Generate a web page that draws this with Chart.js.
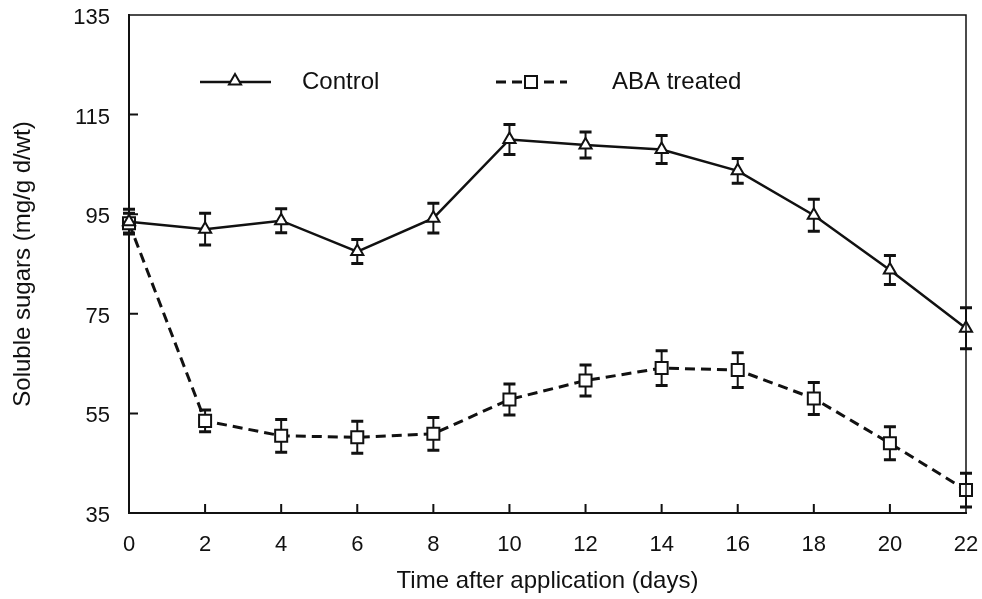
<!DOCTYPE html>
<html>
<head>
<meta charset="utf-8">
<script src="https://cdn.jsdelivr.net/npm/chart.js@4/dist/chart.umd.min.js"></script>
<style>
  html, body { margin: 0; padding: 0; background: #fff; }
  #wrap { width: 982px; height: 599px; }
</style>
</head>
<body>
<div id="wrap"><canvas id="sugarChart" width="982" height="599"></canvas></div>
<script>
// days after ABA application
const days = [0, 2, 4, 6, 8, 10, 12, 14, 16, 18, 20, 22];
const control = [93.5, 92, 93.7, 87.5, 94.2, 110, 108.9, 108, 103.7, 94.8, 83.8, 72.1];
const controlErr = [2.5, 3.2, 2.4, 2.4, 3, 3, 2.6, 2.8, 2.5, 3.2, 2.9, 4.1];
const aba = [93.2, 53.5, 50.5, 50.2, 50.9, 57.8, 61.6, 64.1, 63.7, 58, 49, 39.6];
const abaErr = [2, 2.2, 3.3, 3.2, 3.3, 3.1, 3.1, 3.5, 3.5, 3.2, 3.3, 3.4];
const yTicks = [35, 55, 75, 95, 115, 135];
const xTicks = [0, 2, 4, 6, 8, 10, 12, 14, 16, 18, 20, 22];

const FONT = 'Liberation Sans, Arial, Helvetica, sans-serif';
const INK = '#111';

function toPoints(ys, errs) {
    return days.map(function(d, i) { return { x: d, y: ys[i], err: errs[i] }; });
}

// error bars, drawn under the markers
const errorBars = {
    id: 'errorBars',
    beforeDatasetsDraw: function(chart) {
        const ctx = chart.ctx;
        const xs = chart.scales.x, ys = chart.scales.y;
        ctx.save();
        ctx.strokeStyle = INK;
        chart.data.datasets.forEach(function(ds) {
            ds.data.forEach(function(p) {
                const px = xs.getPixelForValue(p.x);
                const top = ys.getPixelForValue(p.y + p.err);
                const bot = ys.getPixelForValue(p.y - p.err);
                ctx.lineWidth = 2;
                ctx.beginPath();
                ctx.moveTo(px, top); ctx.lineTo(px, bot);
                ctx.stroke();
                ctx.lineWidth = 3;
                ctx.beginPath();
                ctx.moveTo(px - 6, top); ctx.lineTo(px + 6, top);
                ctx.moveTo(px - 6, bot); ctx.lineTo(px + 6, bot);
                ctx.stroke();
            });
        });
        ctx.restore();
    }
};

// box frame, inward ticks and the legend inside the plot
const frame = {
    id: 'frame',
    afterDraw: function(chart) {
        const ctx = chart.ctx;
        const a = chart.chartArea;
        const xs = chart.scales.x, ys = chart.scales.y;
        ctx.save();
        ctx.strokeStyle = INK;
        ctx.lineWidth = 1.5;
        ctx.beginPath();
        ctx.moveTo(a.left, a.top); ctx.lineTo(a.right, a.top); ctx.lineTo(a.right, a.bottom);
        ctx.stroke();

        ctx.lineWidth = 2;
        ctx.beginPath();
        yTicks.slice(1, -1).forEach(function(v) {
            const py = ys.getPixelForValue(v);
            ctx.moveTo(a.left, py); ctx.lineTo(a.left + 9, py);
        });
        xTicks.slice(1, -1).forEach(function(v) {
            const px = xs.getPixelForValue(v);
            ctx.moveTo(px, a.bottom); ctx.lineTo(px, a.bottom - 9);
        });
        ctx.stroke();

        // legend
        const ly = 82;
        ctx.lineWidth = 2.5;
        ctx.beginPath();
        ctx.moveTo(200, ly); ctx.lineTo(271, ly);
        ctx.stroke();
        ctx.setLineDash([10, 6]);
        ctx.lineWidth = 3;
        ctx.beginPath();
        ctx.moveTo(496, ly); ctx.lineTo(567, ly);
        ctx.stroke();
        ctx.setLineDash([]);
        ctx.lineWidth = 2;
        ctx.fillStyle = '#fff';
        Chart.helpers.drawPoint(ctx, { pointStyle: 'triangle', radius: 7, borderWidth: 2 }, 235, ly - 1);
        ctx.beginPath();
        ctx.rect(525, ly - 6, 12, 12);
        ctx.fill(); ctx.stroke();

        ctx.fillStyle = INK;
        ctx.font = '24px ' + FONT;
        ctx.textBaseline = 'middle';
        ctx.fillText('Control', 302, ly);
        ctx.fillText('ABA treated', 612, ly);
        ctx.restore();
    }
};

new Chart(document.getElementById('sugarChart'), {
    type: 'line',
    data: {
        datasets: [
            {
                label: 'Control',
                data: toPoints(control, controlErr),
                borderColor: INK,
                borderWidth: 2.5,
                pointStyle: 'triangle',
                pointRadius: 7,
                pointBorderWidth: 2,
                pointBorderColor: INK,
                pointBackgroundColor: '#fff',
                tension: 0,
                clip: false
            },
            {
                label: 'ABA treated',
                data: toPoints(aba, abaErr),
                borderColor: INK,
                borderWidth: 3,
                borderDash: [10, 6],
                pointStyle: 'rect',
                pointRadius: 8.5,
                pointBorderWidth: 2,
                pointBorderColor: INK,
                pointBackgroundColor: '#fff',
                tension: 0,
                clip: false
            }
        ]
    },
    options: {
        responsive: false,
        animation: false,
        layout: { padding: { top: 15, right: 16, left: 0, bottom: 0 } },
        plugins: { legend: { display: false }, tooltip: { enabled: false } },
        scales: {
            x: {
                type: 'linear',
                min: 0,
                max: 22,
                afterBuildTicks: function(s) { s.ticks = xTicks.map(function(v) { return { value: v }; }); },
                afterFit: function(s) { s.height = 86; s.paddingLeft = 0; s.paddingRight = 0; },
                grid: { drawOnChartArea: false, drawTicks: false },
                border: { color: INK, width: 2 },
                ticks: { color: INK, padding: 19, maxRotation: 0, font: { family: FONT, size: 22 } },
                title: {
                    display: true,
                    text: 'Time after application (days)',
                    color: INK,
                    padding: { top: 0, bottom: 3 },
                    font: { family: FONT, size: 24 }
                }
            },
            y: {
                min: 35,
                max: 135,
                afterBuildTicks: function(s) { s.ticks = yTicks.map(function(v) { return { value: v }; }); },
                afterFit: function(s) { s.width = 129; s.paddingTop = 0; s.paddingBottom = 0; },
                grid: { drawOnChartArea: false, drawTicks: false },
                border: { color: INK, width: 2 },
                ticks: { color: INK, padding: 19, labelOffset: 3, font: { family: FONT, size: 22 } },
                title: {
                    display: true,
                    text: 'Soluble sugars (mg/g d/wt)',
                    color: INK,
                    padding: { top: 9, bottom: 0 },
                    font: { family: FONT, size: 24 }
                }
            }
        }
    },
    plugins: [errorBars, frame]
});
</script>
</body>
</html>
